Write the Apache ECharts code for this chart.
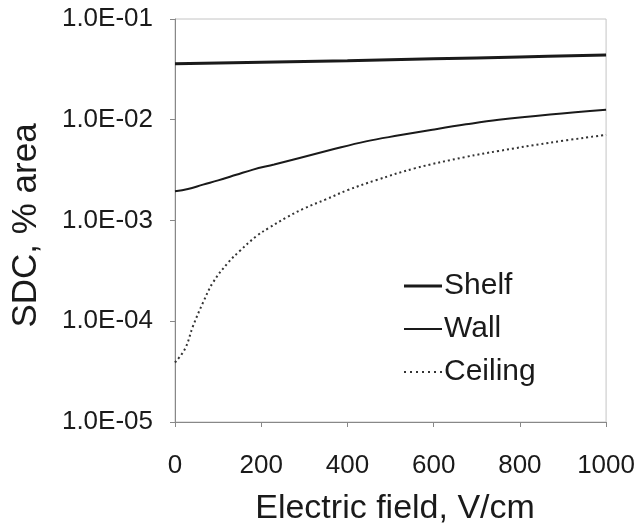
<!DOCTYPE html>
<html><head><meta charset="utf-8">
<script src="https://cdn.jsdelivr.net/npm/echarts@6/dist/echarts.min.js"></script>
<style>html,body{margin:0;padding:0;background:#fff}#c{width:638px;height:531px}</style>
</head><body><div id="c"></div>
<script>
const xTicks = [0, 200, 400, 600, 800, 1000];
const shelfX = [0, 200, 400, 600, 800, 1000];
const shelfY = [0.0360, 0.0372, 0.0386, 0.0402, 0.0420, 0.0440];
const wallX = [0, 30, 65, 100, 142, 181, 230, 289, 360, 443, 520, 597, 675, 751, 870, 1000];
const wallY = [0.00195, 0.00205, 0.00227, 0.0025, 0.00284, 0.0032, 0.0036, 0.00418, 0.0050, 0.0061, 0.0070, 0.00796, 0.0090, 0.0100, 0.0113, 0.0126];
const ceilX = [0, 23, 42, 65, 88, 123, 150, 189, 219, 258, 300, 350, 400, 466, 558, 674, 751, 866, 1000];
const ceilY = [3.9e-5, 5.3e-5, 9.0e-5, 1.53e-4, 2.42e-4, 3.81e-4, 4.97e-4, 7.0e-4, 8.5e-4, 1.07e-3, 1.32e-3, 1.62e-3, 2.0e-3, 2.51e-3, 3.31e-3, 4.27e-3, 4.9e-3, 5.89e-3, 7.08e-3];

const pair = (xs, ys) => xs.map((x, i) => [x, ys[i]]);
function fmtE(v) {
  const e = Math.round(Math.log10(v));
  const m = v / Math.pow(10, e);
  const a = Math.abs(e);
  return m.toFixed(1) + 'E' + (e < 0 ? '-' : '') + (a < 10 ? '0' : '') + a;
}
const font = 'Liberation Sans, Arial, sans-serif';
const ink = '#1a1a1a';
const chart = echarts.init(document.getElementById('c'), null, {renderer: 'canvas'});
chart.setOption({
  animation: false,
  backgroundColor: '#fff',
  grid: {left: 175, right: 30, top: 19, bottom: 108, show: true, borderColor: '#c4c4c4', borderWidth: 1},
  xAxis: {
    type: 'value', min: 0, max: 1000, interval: 200,
    name: 'Electric field, V/cm', nameLocation: 'middle', nameGap: 70,
    nameTextStyle: {fontFamily: font, fontSize: 34, color: ink, padding: [0, 0, 0, 9]},
    axisLine: {show: true, lineStyle: {color: '#888', width: 1}},
    axisTick: {show: true, length: 5, lineStyle: {color: '#888'}},
    axisLabel: {fontFamily: font, fontSize: 26, color: ink, margin: 31,
      formatter: v => xTicks.includes(v) ? String(v) : ''},
    splitLine: {show: false}
  },
  yAxis: {
    type: 'log', logBase: 10, min: 1e-5, max: 1e-1,
    name: 'SDC, % area', nameLocation: 'middle', nameGap: 131,
    nameTextStyle: {fontFamily: font, fontSize: 35, color: ink, padding: [0, 10, 0, 0]},
    axisLine: {show: true, lineStyle: {color: '#888', width: 1}},
    axisTick: {show: true, length: 5, lineStyle: {color: '#888'}},
    axisLabel: {fontFamily: font, fontSize: 26, color: ink, margin: 22, formatter: v => fmtE(v)},
    splitLine: {show: false}, minorTick: {show: false}
  },
  legend: {
    orient: 'vertical', left: 399, top: 266, itemWidth: 38, itemHeight: 14, itemGap: 13,
    symbolKeepAspect: true,
    textStyle: {fontFamily: font, fontSize: 30, color: ink, padding: [0, 0, 0, -3]},
    itemStyle: {borderWidth: 0},
    data: [
      {name: 'Shelf', icon: 'path://M0,0h38v3h-38z'},
      {name: 'Wall', icon: 'path://M0,0h38v2h-38z'},
      {name: 'Ceiling', icon: 'path://M0,0h2v2h-2zM6,0h2v2h-2zM12,0h2v2h-2zM18,0h2v2h-2zM24,0h2v2h-2zM30,0h2v2h-2zM36,0h2v2h-2z'}
    ]
  },
  series: [
    {name: 'Shelf', type: 'line', data: pair(shelfX, shelfY), symbol: 'none', smooth: 0.4,
      lineStyle: {color: ink, width: 3}, itemStyle: {color: ink}},
    {name: 'Wall', type: 'line', data: pair(wallX, wallY), symbol: 'none', smooth: 0.4,
      lineStyle: {color: ink, width: 2}, itemStyle: {color: ink}},
    {name: 'Ceiling', type: 'line', data: pair(ceilX, ceilY), symbol: 'none', smooth: 0.4,
      lineStyle: {color: '#333', width: 2, type: [2, 3]}, itemStyle: {color: '#333'}}
  ]
});
</script></body></html>
